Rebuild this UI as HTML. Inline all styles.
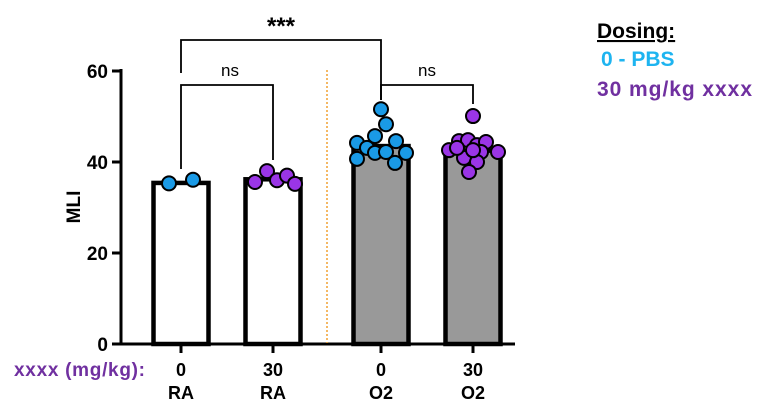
<!DOCTYPE html>
<html><head><meta charset="utf-8"><style>
body{margin:0;background:#fff;width:769px;height:408px;overflow:hidden;font-family:"Liberation Sans",sans-serif}
</style></head><body>
<svg id="chart" width="769" height="408" viewBox="0 0 769 408" xmlns="http://www.w3.org/2000/svg" font-family="Liberation Sans, sans-serif">
<g id="bars"></g>
<g id="dots"></g>
<g id="axes"></g>
<g font-weight="bold" font-size="21">
<text x="597" y="38" fill="#000" text-decoration="underline">Dosing:</text>
<text x="601" y="66" fill="#1eb4f0">0 - PBS</text>
<text x="597" y="96" fill="#7030a0" textLength="155">30 mg/kg xxxx</text>
</g>
</svg>
<script>
const categories=["0|RA","30|RA","0|O2","30|O2"];
const barValues=[35.4,36.2,43.5,42.5];
const barFills=["#fff","#fff","#999","#999"];
const dotsRA0=[35.3,36.1];
const dotsRA30=[35.6,38,36,37,35.2];
const dotsO20=[51.6,48.3,45.7,44.2,43.1,44.6,42,42.2,42,40.7,39.8];
const dotsO230=[50.1,42.6,44.6,44.8,43.7,44.4,42.2,42.2,40.9,40,37.8,43.1,42.6];
const yTicks=[0,20,40,60];
const NS="http://www.w3.org/2000/svg";
const y0=344,yTop=71,yMax=60;
const yS=v=>y0-(y0-yTop)*v/yMax;
const xC=[181,273,381,473];
const bw=55;
function mk(tag,attrs,parent){const e=document.createElementNS(NS,tag);for(const k in attrs)e.setAttribute(k,attrs[k]);parent.appendChild(e);return e;}
const bars=document.getElementById('bars'),dots=document.getElementById('dots'),axes=document.getElementById('axes');
barValues.forEach((v,i)=>{
 const r=mk('rect',{x:xC[i]-bw/2,y:yS(v),width:bw,height:y0-yS(v),fill:barFills[i],stroke:'#000','stroke-width':4.5},bars);
 
 
});
const groups=[[dotsRA0,'#1a9ae6',[-12,12]],[dotsRA30,'#9a35e6',[-18,-6,4,14,22]],[dotsO20,'#1a9ae6',[0,5,-6,-24,-14,15,-6,5,25,-24,14]],[dotsO230,'#9a35e6',[0,-24,-14,-5,4,13,8,25,-9,4,-4,-16,0]]];
groups.forEach((g,gi)=>{
 g[0].forEach((v,j)=>{
  const c=mk('circle',{cx:xC[gi]+(g[2][j]||0),cy:yS(v),r:7,fill:g[1],stroke:'#000','stroke-width':2},dots);
  
  
 });
});
const ya=mk('line',{x1:121,y1:yTop-2,x2:121,y2:y0+1.5,stroke:'#000','stroke-width':3},axes);


const xa=mk('line',{x1:119.5,y1:y0,x2:515,y2:y0,stroke:'#000','stroke-width':3},axes);


yTicks.forEach(t=>{
 mk('line',{x1:112,y1:yS(t),x2:121,y2:yS(t),stroke:'#000','stroke-width':3},axes);
 const tx=mk('text',{x:108,y:yS(t)+7,'text-anchor':'end','font-size':19,'font-weight':'bold'},axes);
 tx.textContent=t;
 
 
});
categories.forEach((c,i)=>{
 const [d,g]=c.split('|');
 mk('line',{x1:xC[i],y1:y0,x2:xC[i],y2:y0+9,stroke:'#000','stroke-width':3},axes);
 const t1=mk('text',{x:xC[i],y:376,'text-anchor':'middle','font-size':18,'font-weight':'bold'},axes);
 t1.textContent=d;
 
 
 const t2=mk('text',{x:xC[i],y:399,'text-anchor':'middle','font-size':18,'font-weight':'bold'},axes);
 t2.textContent=g;
 
 
});
const xl=mk('text',{x:14,y:376,'font-size':19,'font-weight':'bold',fill:'#7030a0',textLength:131},axes);
xl.textContent='xxxx (mg/kg):';


const yl=mk('text',{x:80,y:207,'font-size':19,'font-weight':'bold','text-anchor':'middle',transform:'rotate(-90 80 207)'},axes);
yl.textContent='MLI';


const dl=mk('line',{x1:327,y1:70,x2:327,y2:343,stroke:'#f0a030','stroke-width':1.5,'stroke-dasharray':'2,2'},axes);


const br=[[[181,73],[181,40],[381,40],[381,100]],[[181,169],[181,85],[273,85],[273,160]],[[381,100],[381,85],[473,85],[473,104]]];
br.forEach((p,i)=>{
 const pl=mk('polyline',{points:p.map(q=>q.join(',')).join(' '),fill:'none',stroke:'#000','stroke-width':1.8},axes);
 
 
});
[[281,34,'***',24,'bold'],[230,76,'ns',17,'normal'],[427,76,'ns',17,'normal']].forEach(a=>{
 const t=mk('text',{x:a[0],y:a[1],'text-anchor':'middle','font-size':a[3],'font-weight':a[4]},axes);
 t.textContent=a[2];
 
 
});
</script>
</body></html>
